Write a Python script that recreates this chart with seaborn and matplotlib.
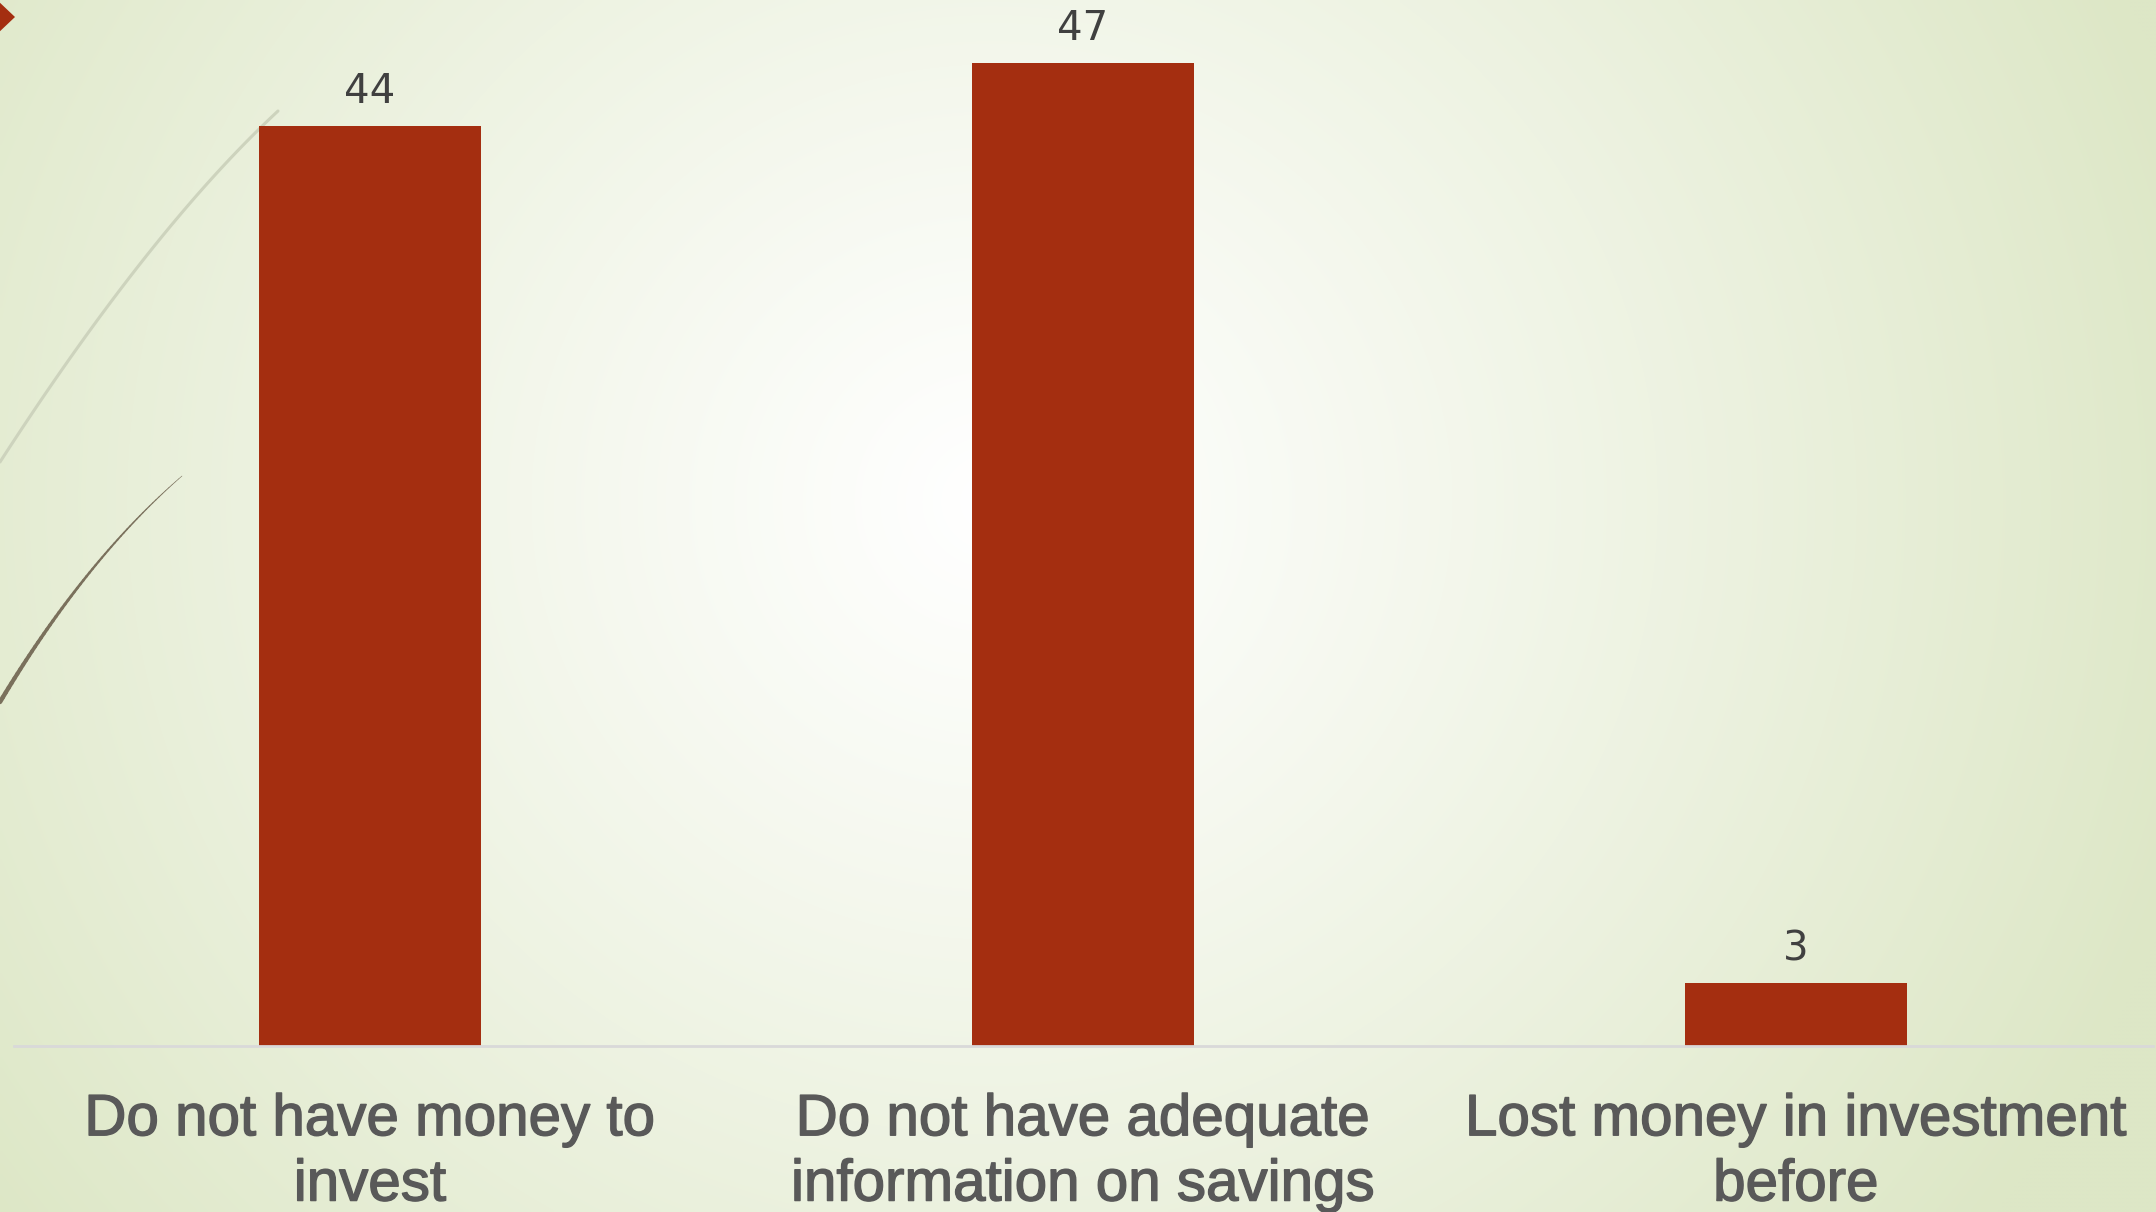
import numpy as np
import pandas as pd
import matplotlib
matplotlib.use("Agg")
import matplotlib.pyplot as plt
from matplotlib.patches import Polygon
from matplotlib.collections import LineCollection
import matplotlib.patheffects as pe
import seaborn as sns

# ---- data ----
categories = ["Do not have money to invest",
              "Do not have adequate information on savings",
              "Lost money in investment before"]
values = [44, 47, 3]
tick_labels = ["Do not have money to\ninvest",
               "Do not have adequate\ninformation on savings",
               "Lost money in investment\nbefore"]

BAR = "#A42E10"
W, H, DPI = 2156, 1212, 100

sns.set_theme(style="white")
plt.rcParams['font.family'] = ['Liberation Sans', 'DejaVu Sans']

fig = plt.figure(figsize=(W / DPI, H / DPI), dpi=DPI)

# ---- background radial gradient ----
bg = fig.add_axes([0, 0, 1, 1], zorder=0)
yy, xx = np.mgrid[0:H:4, 0:W:4]
cx, cy = 990, 500
r = np.sqrt(((xx - cx) / 1.0) ** 2 + ((yy - cy) / 0.95) ** 2)
t = np.clip(r / 1250.0, 0, 1) ** 1.1
c0 = np.array([255, 255, 255]) / 255
c1 = np.array([221, 231, 198]) / 255
img = c0[None, None, :] * (1 - t[..., None]) + c1[None, None, :] * t[..., None]
bg.imshow(img, extent=[0, W, H, 0], aspect='auto', interpolation='bilinear')
bg.set_xlim(0, W)
bg.set_ylim(H, 0)
bg.axis('off')

# decorative curves (pixel coords, y down)
def qbez(p0, p1, p2, n=60):
    s = np.linspace(0, 1, n)[:, None]
    return (1 - s) ** 2 * np.array(p0) + 2 * (1 - s) * s * np.array(p1) + s ** 2 * np.array(p2)

light = qbez((0, 462), (150, 230), (278, 111))
bg.plot(light[:, 0], light[:, 1], color="#CDD3BD", lw=2.2, solid_capstyle='round')

dark = qbez((0, 702), (85, 560), (182, 476))
segs = np.stack([dark[:-1], dark[1:]], axis=1)
lws = np.linspace(3.2, 0.4, len(segs))
bg.add_collection(LineCollection(segs, linewidths=lws, colors="#7A705C", capstyle='round'))

# red diamond at top-left
bg.add_patch(Polygon([(-4, -1), (15, 17), (-4, 35), (-23, 17)], closed=True,
                     facecolor=BAR, edgecolor='none'))

# ---- chart ----
left = 13.5 / W
width = 2139 / W
bottom = (H - 1046) / H
height = 1046 / H
ax = fig.add_axes([left, bottom, width, height], zorder=1)
ax.patch.set_alpha(0)

df = pd.DataFrame({"category": categories, "value": values})
sns.barplot(data=df, x="category", y="value", color=BAR, saturation=1,
            width=0.312, ax=ax)
for p in ax.patches:
    p.set_edgecolor('none')

ax.set_xlim(-0.5, 2.5)
ax.set_ylim(0, 50)
ax.set_xlabel("")
ax.set_ylabel("")
ax.set_yticks([])
ax.set_xticks(range(len(tick_labels)))
ax.set_xticklabels(tick_labels, fontsize=42, color="#595959", linespacing=1.27,
                   family=['Liberation Sans', 'DejaVu Sans'])
for lbl in ax.get_xticklabels():
    lbl.set_path_effects([pe.Stroke(linewidth=1.0, foreground="#595959"), pe.Normal()])
ax.tick_params(axis='x', length=0, pad=34)
for s in ["top", "right", "left"]:
    ax.spines[s].set_visible(False)
ax.spines["bottom"].set_color("#D9D9D9")
ax.spines["bottom"].set_linewidth(2)

for cont in ax.containers:
    ax.bar_label(cont, labels=[str(v) for v in values], padding=10, fontsize=29,
                 color="#404040", family=['DejaVu Sans'])

fig.savefig("out.png", dpi=DPI)
